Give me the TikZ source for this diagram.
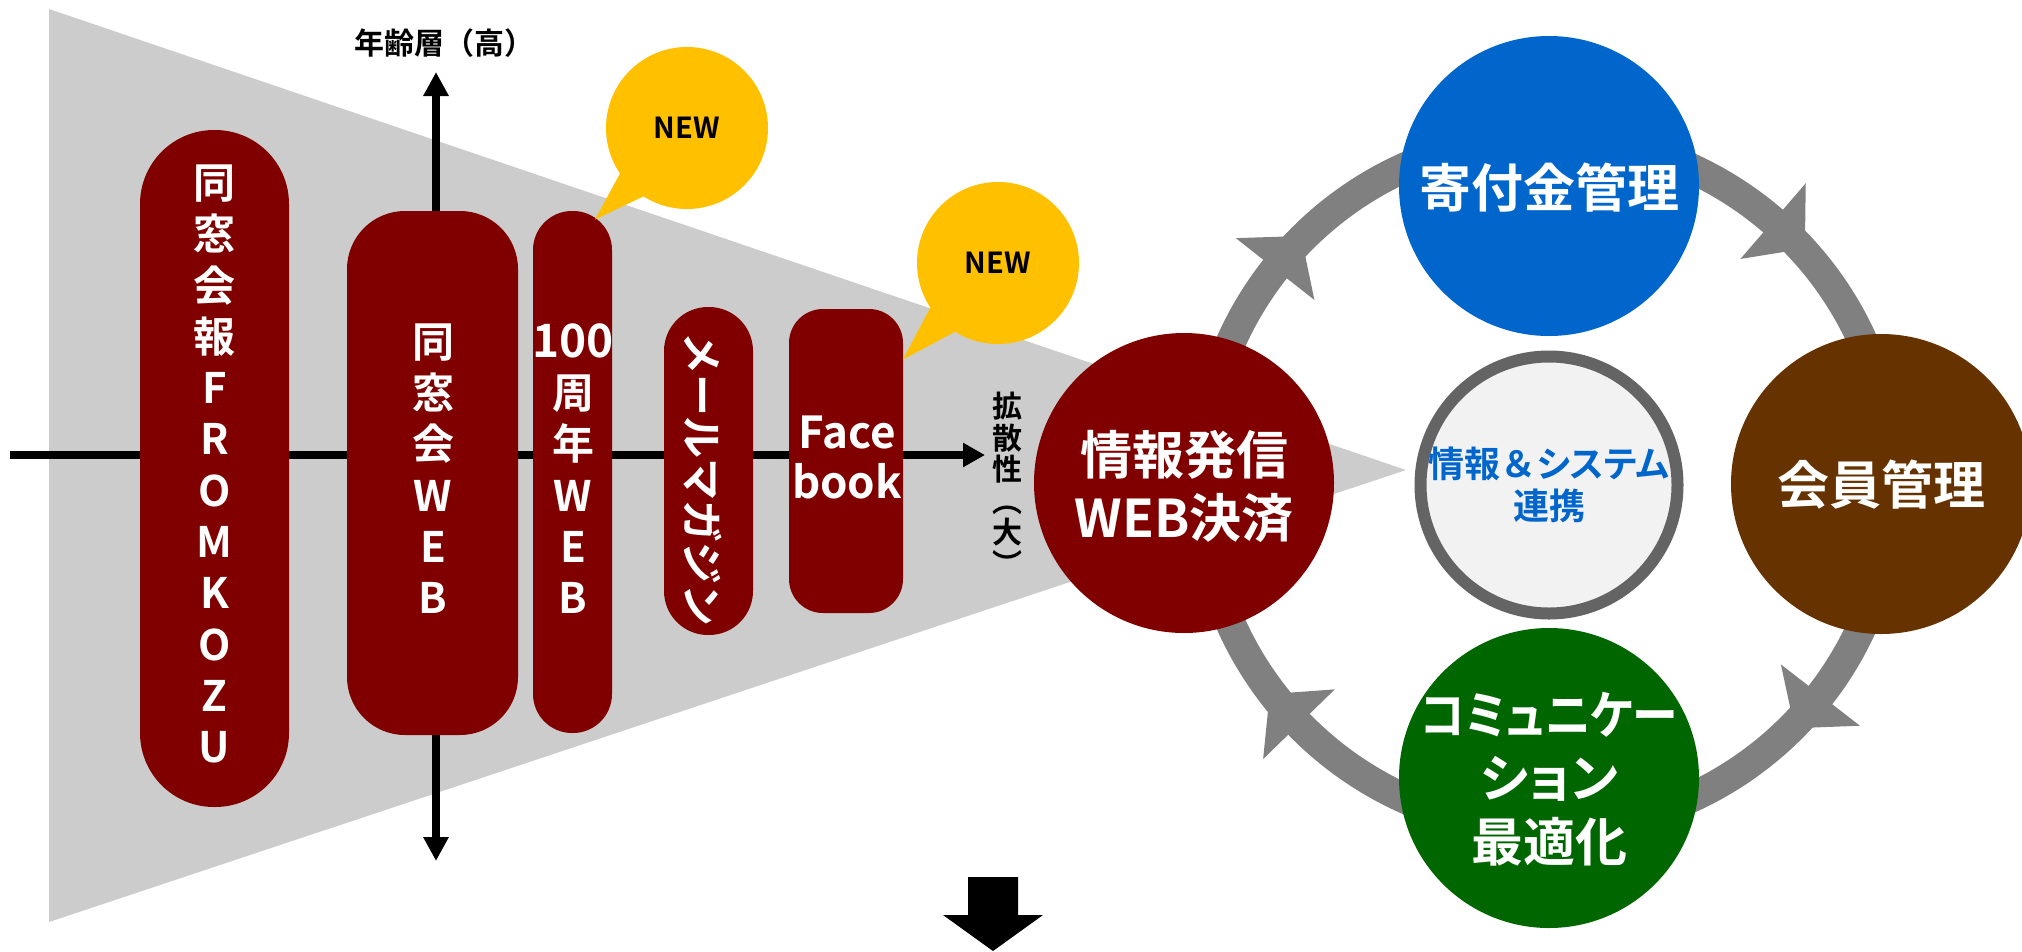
\documentclass[tikz,border=0pt]{standalone}
\usepackage{fontspec}
\setmainfont{Noto Sans CJK JP}[BoldFont={* Bold}]
\newfontfamily\jpp{Noto Sans CJK JP}[BoldFont={* Bold},RawFeature=+palt]
\usetikzlibrary{arrows.meta,calc}
\definecolor{trigray}{RGB}{204,204,204}
\definecolor{darkred}{RGB}{128,0,0}
\definecolor{newyellow}{RGB}{255,192,0}
\definecolor{ringgray}{RGB}{128,128,128}
\definecolor{cblue}{RGB}{0,102,204}
\definecolor{cbrown}{RGB}{102,51,0}
\definecolor{cgreen}{RGB}{0,102,0}
\definecolor{cbg}{RGB}{242,242,242}
\definecolor{cborder}{RGB}{100,100,100}
\begin{document}
\begin{tikzpicture}[x=1pt,y=-1pt,
  pillbox/.style={fill=darkred, inner sep=0pt},
  pilltext/.style={text=white, inner sep=0pt, align=center, font=\bfseries\fontsize{42}{51.3}\selectfont},
  axisline/.style={line width=7.5pt, black},
  bubble/.style={circle, fill=newyellow, minimum size=162pt, inner sep=0pt, font=\bfseries\fontsize{29}{30}\selectfont},
  bigc/.style={circle, minimum size=300pt, inner sep=0pt},
  bigtext/.style={text=white, inner sep=0pt, align=center, font=\bfseries\fontsize{52}{63}\selectfont},
  lbl/.style={font=\bfseries\fontsize{30}{31.5}\selectfont, inner sep=0pt, align=center},
]
\useasboundingbox (0,0) rectangle (2022,951);
\clip (0,0) rectangle (2022,951);
\fill[white] (0,0) rectangle (2022,951);

% funnel
\fill[trigray] (49,9) -- (1406,470) -- (49,922) -- cycle;

% axes
\coordinate (hL) at (10,455);
\coordinate (hR) at (985,455);
\coordinate (vT) at (436,72);
\coordinate (vB) at (436,861);
\draw[axisline, -{Triangle[length=22pt,width=23pt]}] (hL) -- (hR);
\draw[axisline, line width=8pt, {Triangle[length=24pt,width=24pt]}-{Triangle[length=24pt,width=24pt]}] (vB) -- (vT);

\node[lbl] (age) at (444,43) {年齢層（高）};
\node[lbl] (spread) at (1007,484) {拡\\散\\性\\︵\\大\\︶};

% pills
\node[pillbox, minimum width=149pt, minimum height=677pt, rounded corners=74pt] (p1) at (214.5,468.5) {};
\node[pilltext] (p1t) at (214.5,464) {同\\窓\\会\\報\\F\\R\\O\\M\\K\\O\\Z\\U};

\node[pillbox, minimum width=171pt, minimum height=524pt, rounded corners=58pt] (p2) at (432.5,473) {};
\node[pilltext] (p2t) at (433,468.5) {同\\窓\\会\\W\\E\\B};

\node[pillbox, minimum width=79pt, minimum height=522pt, rounded corners=39pt] (p3) at (572.5,472) {};
\node[pilltext] (p3t) at (573,468.5) {{\fontsize{46}{51.3}\selectfont 100}\\周\\年\\W\\E\\B};

\node[pillbox, minimum width=89pt, minimum height=328pt, rounded corners=44pt] (p4) at (708.5,471) {};
\node[pilltext, rotate=-90] (p4t) at (703,479) {メールマガジン};

\node[pillbox, minimum width=114pt, minimum height=304pt, rounded corners=34pt] (p5) at (846,461) {};
\node[pilltext, font=\bfseries\fontsize{44}{50}\selectfont] (p5t) at (847,457) {Face\\book};

% NEW bubbles
\coordinate (t1a) at (623.4,167.2);
\coordinate (t1b) at (651.3,192.6);
\coordinate (t1tip) at (595,219.6);
\fill[newyellow] (t1a) -- (t1tip) -- (t1b) -- cycle;
\node[bubble] (new1) at (687,128) {NEW};
\coordinate (t2a) at (934.8,299.3);
\coordinate (t2b) at (964.2,327);
\coordinate (t2tip) at (902.8,359.5);
\fill[newyellow] (t2a) -- (t2tip) -- (t2b) -- cycle;
\node[bubble] (new2) at (998,263) {NEW};

% ring
\coordinate (rc) at (1547,483);
\draw[ringgray, line width=30pt] (rc) circle[radius=346pt];
\foreach \a in {141.8,49.2,-37.8,224.2} {
  \fill[ringgray] ($(rc)+(-\a:346)+(-\a:50)$) -- ($(rc)+(-\a:346)+(90-\a:42)$) -- ($(rc)+(-\a:346)+(180-\a:50)$) -- cycle;
}

% circles
\node[bigc, fill=darkred] (info) at (1184,483) {};
\node[bigtext] (infot) at (1184,486) {情報発信\\WEB決済};
\node[bigc, fill=cblue] (kifu) at (1549,186) {};
\node[bigtext] (kifut) at (1549,188) {寄付金管理};
\node[bigc, fill=cbrown] (kaiin) at (1881,484) {};
\node[bigtext] (kaiint) at (1881,485) {会員管理};
\node[bigc, fill=cgreen] (comm) at (1549,778) {};
\node[bigtext, font=\bfseries\jpp\fontsize{52}{63.5}\selectfont] (commt) at (1549,779) {\scalebox{0.88}[1]{コミュニケー}\\ション\\最適化};
\node[circle, minimum size=257pt, inner sep=0pt, fill=cbg, draw=cborder, line width=12pt] (core) at (1549,485) {};
\node[text=cblue, inner sep=0pt, align=center, font=\bfseries\jpp\fontsize{36}{42}\selectfont] (coret) at (1549,485) {情報{\rmfamily ＆}システム\\連携};

% down arrow
\fill[black] (968,877) -- (1018,877) -- (1018,915) -- (1043,915) -- (993,951) -- (943,915) -- (968,915) -- cycle;
\end{tikzpicture}
\end{document}
